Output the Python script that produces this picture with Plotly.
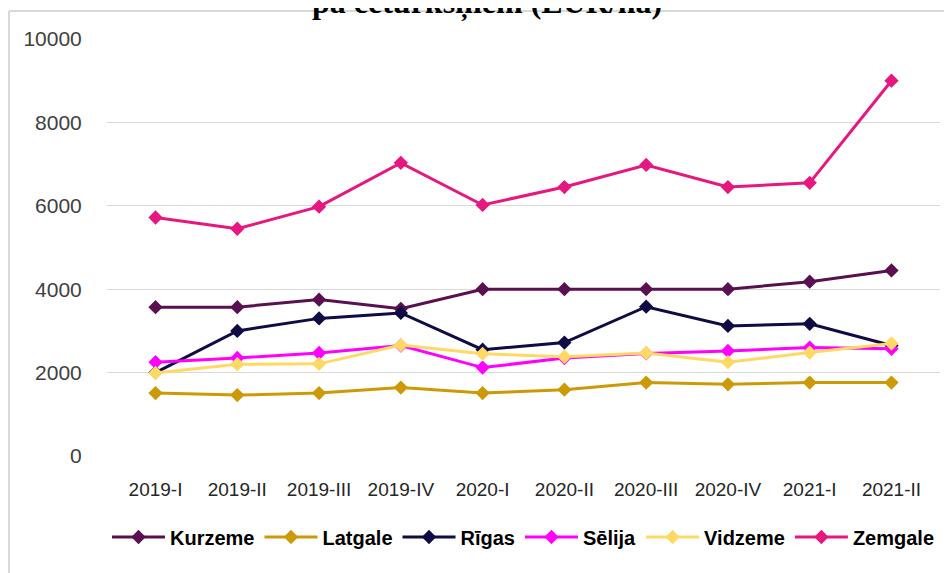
import plotly.graph_objects as go

categories = ["2019-I", "2019-II", "2019-III", "2019-IV", "2020-I", "2020-II",
              "2020-III", "2020-IV", "2021-I", "2021-II"]

kurzeme = [3570, 3570, 3750, 3530, 4000, 4000, 4000, 4000, 4180, 4450]
latgale = [1510, 1460, 1510, 1640, 1510, 1590, 1760, 1720, 1760, 1760]
rigas = [2000, 3000, 3300, 3430, 2550, 2720, 3580, 3120, 3170, 2650]
selija = [2250, 2350, 2470, 2650, 2120, 2350, 2460, 2520, 2600, 2570]
vidzeme = [1990, 2200, 2210, 2660, 2450, 2380, 2470, 2250, 2480, 2700]
zemgale = [5720, 5450, 5980, 7030, 6020, 6450, 6980, 6450, 6550, 9000]

series = [
    ("Kurzeme", kurzeme, "#5A1050"),
    ("Latgale", latgale, "#CC9A06"),
    ("Rīgas", rigas, "#0E0B45"),
    ("Sēlija", selija, "#FF00FF"),
    ("Vidzeme", vidzeme, "#FFD966"),
    ("Zemgale", zemgale, "#E6177F"),
]

y_ticks = [0, 2000, 4000, 6000, 8000, 10000]
y_ticktext = ["0", "2000", "4000", "6000", "8000", "10000"]

T, B, L, R = 31, 125, 99, 20
PH = 573 - T - B
PW = 952 - L - R

fig = go.Figure()
for name, vals, color in series:
    fig.add_trace(go.Scatter(
        x=categories, y=vals, name=name, mode="lines+markers",
        line=dict(color=color, width=3),
        marker=dict(symbol="diamond", size=11, color=color),
    ))

fig.update_layout(
    width=952, height=573,
    paper_bgcolor="white", plot_bgcolor="white",
    margin=dict(l=L, r=R, t=T, b=B, autoexpand=False),
    xaxis=dict(
        type="category", showgrid=False, zeroline=False, showline=False, automargin=False,
        ticks="outside", ticklen=16, tickcolor="rgba(0,0,0,0)",
        tickfont=dict(family="Liberation Sans, Arial, sans-serif", size=19, color="#262626"),
    ),
    yaxis=dict(
        range=[0, 10000], tickvals=y_ticks, ticktext=y_ticktext, automargin=False,
        showgrid=True, gridcolor="#D9D9D9", gridwidth=1.3,
        zeroline=False, showline=False,
        ticks="outside", ticklen=20, tickcolor="rgba(0,0,0,0)",
        tickfont=dict(family="Liberation Sans, Arial, sans-serif", size=21, color="#404040"),
    ),
    legend=dict(
        orientation="h", x=0.5, xanchor="center", y=-(529 - 573 + B) / PH, yanchor="middle",
        font=dict(family="Liberation Sans, Arial, sans-serif", size=20, color="black", weight="bold"),
        itemwidth=53, tracegroupgap=0,
    ),
    showlegend=True,
)

fig.add_annotation(
    text="<b>pa ceturkšņiem (EUR/ha)</b>", showarrow=False,
    font=dict(family="Liberation Serif, Times New Roman, serif", size=32, color="black"),
    xref="paper", yref="paper", x=(479 - L) / PW, xanchor="center",
    y=1 + (T + 6) / PH, yanchor="middle",
)

fig.add_shape(type="line", xref="paper", yref="paper",
              x0=-(L - 1) / PW, x1=(952 - L) / PW, y0=1 + (T - 3) / PH, y1=1 + (T - 3) / PH,
              line=dict(color="#D9D9D9", width=2))
fig.add_shape(type="line", xref="paper", yref="paper",
              x0=-(L - 1) / PW, x1=-(L - 1) / PW, y0=1 + (T - 3) / PH, y1=-B / PH,
              line=dict(color="#D9D9D9", width=2))

fig.write_html("out.html")
